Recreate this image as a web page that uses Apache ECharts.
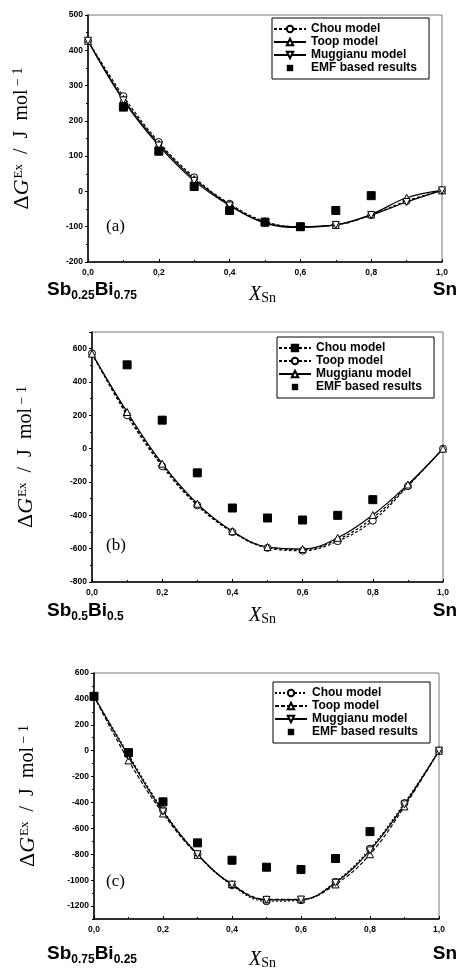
<!DOCTYPE html>
<html>
<head>
<meta charset="utf-8">
<script src="https://cdn.jsdelivr.net/npm/echarts@6/dist/echarts.min.js"></script>
<style>
html,body{margin:0;padding:0;background:#fff;}
#c{width:457px;height:969px;}
</style>
</head>
<body>
<div id="c"></div>
<script>
// ---- data ----
const xModel = [0, 0.1, 0.2, 0.3, 0.4, 0.5, 0.6, 0.7, 0.8, 0.9, 1.0];
const xTickLabels = ['0,0', '0,2', '0,4', '0,6', '0,8', '1,0'];
const panelLetters = ['(a)', '(b)', '(c)'];
const leftLabels = [['Sb', '0.25', 'Bi', '0.75'], ['Sb', '0.5', 'Bi', '0.5'], ['Sb', '0.75', 'Bi', '0.25']];
const yTicksC = [-1200, -1000, -800, -600, -400, -200, 0, 200, 400, 600];

// panel (a)
const chouA = [427, 270, 140, 40, -35, -85, -100, -95, -67, -27, 3];
const toopA = [427, 262, 135, 35, -38, -88, -100, -95, -65, -18, 3];
const mugA  = [427, 258, 130, 30, -40, -90, -102, -95, -67, -30, 3];
const emfXA = [0.1, 0.2, 0.3, 0.4, 0.5, 0.6, 0.7, 0.8];
const emfA  = [239, 114, 14, -54, -87, -100, -54, -12];

// panel (b)
const chouB = [570, 210, -95, -335, -497, -590, -605, -545, -415, -220, 0];
const toopB = [572, 200, -105, -340, -500, -595, -612, -555, -432, -225, 0];
const mugB  = [570, 220, -90, -330, -495, -590, -602, -535, -398, -215, 0];
const emfXB = [0.1, 0.2, 0.3, 0.4, 0.5, 0.6, 0.7, 0.8];
const emfB  = [503, 171, -145, -356, -416, -428, -400, -306];

// panel (c)
const chouC = [420, -30, -460, -800, -1040, -1163, -1155, -1013, -757, -404, 0];
const toopC = [420, -75, -485, -805, -1030, -1148, -1148, -1033, -800, -430, 0];
const mugC  = [420, -42, -470, -800, -1035, -1152, -1150, -1020, -770, -415, 0];
const emfXC = [0.0, 0.1, 0.2, 0.3, 0.4, 0.5, 0.6, 0.7, 0.8];
const emfC  = [420, -15, -395, -712, -846, -900, -918, -833, -625];

// ---- layout ----
const grids = [
  {left: 88, right: 15, top: 15, height: 247},
  {left: 92, right: 14, top: 332, height: 250},
  {left: 94, right: 18, top: 673, height: 246}
];
const yRanges = [
  {min: -200, max: 500, interval: 100},
  {min: -800, max: 700, interval: 200},
  {min: -1300, max: 600, interval: 100}
];
const legendPos = [{left: 272, top: 18}, {left: 277, top: 337}, {left: 273, top: 682}];

const pair = (xs, ys) => xs.map((x, i) => [x, ys[i]]);

const SANS = 'Liberation Sans, Arial, sans-serif';
const SERIF = 'Liberation Serif, Times New Roman, serif';

function xAxis(i) {
  return {
    type: 'value', gridIndex: i, min: 0, max: 1, interval: 0.2,
    axisLine: {onZero: false, lineStyle: {color: '#000', width: 1.5}},
    axisTick: {show: true, length: 3, inside: true, lineStyle: {color: '#000'}},
    minorTick: {show: true, splitNumber: 2, length: 2, lineStyle: {color: '#000'}},
    splitLine: {show: false},
    axisLabel: {
      color: '#000', fontSize: 8.5, fontWeight: 'bold', fontFamily: SANS, margin: 6,
      formatter: v => xTickLabels[Math.round(v / 0.2)]
    }
  };
}
function yAxis(i) {
  const ax = {
    type: 'value', gridIndex: i, position: 'left',
    min: yRanges[i].min, max: yRanges[i].max, interval: yRanges[i].interval,
    axisLine: {show: true, onZero: false, lineStyle: {color: '#000', width: 1.5}},
    axisTick: {show: true, length: 3, lineStyle: {color: '#000'}},
    minorTick: {show: true, splitNumber: 2, length: 2, lineStyle: {color: '#000'}},
    splitLine: {show: false},
    axisLabel: {color: '#000', fontSize: 8.5, fontWeight: 'bold', fontFamily: SANS, margin: 5,
      showMaxLabel: i !== 1},
    name: '{d|Δ}{g|G}{sup|Ex}{t|  /  J  mol}{sup2| − 1}',
    nameLocation: 'middle', nameRotate: 90, nameGap: 55,
    nameTextStyle: {
      color: '#000', fontFamily: SERIF, fontSize: 20,
      rich: {
        d: {fontFamily: SERIF, fontSize: 22, color: '#000'},
        g: {fontFamily: SERIF, fontSize: 22, fontStyle: 'italic', color: '#000'},
        sup: {fontFamily: SERIF, fontSize: 13, color: '#000', padding: [0, 0, 6, 1]},
        t: {fontFamily: SERIF, fontSize: 20, color: '#000'},
        sup2: {fontFamily: SERIF, fontSize: 14, color: '#000', padding: [0, 0, 8, 0]}
      }
    }
  };
  if (i === 2) {
    ax.minorTick = {show: false};
    ax.axisTick = {show: true, length: 3, lineStyle: {color: '#000'}, customValues: yTicksC};
    ax.axisLabel.customValues = yTicksC;
    ax.axisLabel.formatter = v => (Math.round(v) % 200 === 0 ? String(v) : '');
  }
  return ax;
}
const yAxes = [0, 1, 2].map(yAxis);
// minor ticks for panel (c) every 100, drawn on the left edge
yAxes.push({
  type: 'value', gridIndex: 2, position: 'right', offset: -(457 - 94 - 18),
  min: -1300, max: 600, interval: 100,
  axisLine: {show: false, onZero: false}, axisLabel: {show: false},
  axisTick: {show: true, inside: true, length: 2, lineStyle: {color: '#000'}},
  splitLine: {show: false}
});

const panels = [
  {chou: chouA, toop: toopA, mug: mugA, emfX: emfXA, emf: emfA,
   sym: {Chou: 'circle', Toop: 'triangle', Mug: 'path://M0,0 L10,0 L5,9 Z'},
   dash: {Chou: [3, 2], Toop: 'solid', Mug: 'solid'}},
  {chou: chouB, toop: toopB, mug: mugB, emfX: emfXB, emf: emfB,
   sym: {Chou: 'rect', Toop: 'circle', Mug: 'triangle'},
   dash: {Chou: [3, 2], Toop: [3, 2], Mug: 'solid'}},
  {chou: chouC, toop: toopC, mug: mugC, emfX: emfXC, emf: emfC,
   sym: {Chou: 'circle', Toop: 'triangle', Mug: 'path://M0,0 L10,0 L5,9 Z'},
   dash: {Chou: [2, 2], Toop: [4, 2], Mug: 'solid'}}
];

const series = [];
const legends = [];
panels.forEach((p, i) => {
  const tag = '|' + i;
  const mk = (name, ys, symbol, dash, hideSym) => ({
    name: name + tag, type: 'line', xAxisIndex: i, yAxisIndex: i,
    data: pair(xModel, ys), smooth: 0.4,
    symbol: symbol, symbolSize: 7, showSymbol: !hideSym,
    lineStyle: {color: '#000', width: 1.2, type: dash},
    itemStyle: {color: hideSym ? '#000' : '#fff', borderColor: '#000', borderWidth: 1},
    emphasis: {disabled: true}, z: 3
  });
  series.push(mk('Chou model', p.chou, p.sym.Chou, p.dash.Chou, i === 1));
  series.push(mk('Toop model', p.toop, p.sym.Toop, p.dash.Toop, false));
  series.push(mk('Muggianu model', p.mug, p.sym.Mug, p.dash.Mug, false));
  series.push({
    name: 'EMF based results' + tag, type: 'line', xAxisIndex: i, yAxisIndex: i,
    data: pair(p.emfX, p.emf), symbol: 'rect', symbolSize: 8, showSymbol: true,
    lineStyle: {opacity: 0, width: 0},
    itemStyle: {color: '#000', borderColor: '#000'}, emphasis: {disabled: true}, z: 4
  });
  legends.push({
    orient: 'vertical', left: legendPos[i].left, top: legendPos[i].top,
    selectedMode: false, backgroundColor: '#fff',
    borderColor: '#000', borderWidth: 1, padding: [5, 12, 5, 1],
    itemGap: 1, itemWidth: 32, itemHeight: 8,
    textStyle: {color: '#000', fontSize: 12, fontWeight: 'bold', fontFamily: SANS},
    formatter: n => n.split('|')[0],
    data: ['Chou model', 'Toop model', 'Muggianu model', 'EMF based results'].map(n => n + tag)
  });
});

const labelRows = [291, 612, 955];
const xLabelRows = [296, 617, 961];
const graphic = [];
labelRows.forEach((y, i) => {
  const l = leftLabels[i];
  graphic.push({
    type: 'text', left: 47, top: y - 11,
    style: {
      text: '{m|' + l[0] + '}{s|' + l[1] + '}{m|' + l[2] + '}{s|' + l[3] + '}',
      rich: {
        m: {fontSize: 19, fontWeight: 'bold', fontFamily: SANS, fill: '#000'},
        s: {fontSize: 12, fontWeight: 'bold', fontFamily: SANS, fill: '#000', padding: [13, 0, 0, 0]}
      }
    }
  });
  graphic.push({
    type: 'text', left: 249, top: xLabelRows[i] - 11,
    style: {
      text: '{x|X}{s|Sn}',
      rich: {
        x: {fontSize: 20, fontStyle: 'italic', fontFamily: SERIF, fill: '#000'},
        s: {fontSize: 14, fontFamily: SERIF, fill: '#000', padding: [7, 0, 0, 0]}
      }
    }
  });
  graphic.push({
    type: 'text', right: 0, top: y - 11,
    style: {text: 'Sn', fontSize: 19, fontWeight: 'bold', fontFamily: SANS, fill: '#000'}
  });
});
const letterY = [228, 547, 883];
letterY.forEach((y, i) => {
  graphic.push({
    type: 'text', left: 106, top: y - 10,
    style: {text: panelLetters[i], fontSize: 17, fontFamily: SERIF, fill: '#000'}
  });
});

const chart = echarts.init(document.getElementById('c'), null, {renderer: 'canvas'});
chart.setOption({
  animation: false,
  backgroundColor: '#fff',
  grid: grids.map(g => Object.assign({show: true, borderColor: '#777', borderWidth: 1}, g)),
  xAxis: [0, 1, 2].map(xAxis),
  yAxis: yAxes,
  legend: legends,
  series: series,
  graphic: graphic
});
</script>
</body>
</html>
